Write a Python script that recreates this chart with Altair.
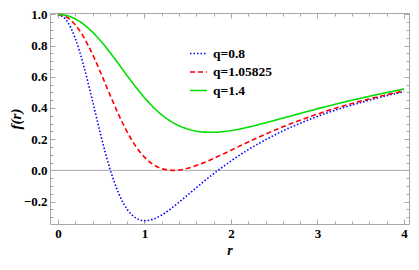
import altair as alt
import pandas as pd

# ---- data ----
r_vals = [0.0, 0.1, 0.2, 0.3, 0.4, 0.5, 0.6, 0.7, 0.8, 0.9, 1.0, 1.1, 1.2, 1.3, 1.333,
          1.4, 1.5, 1.6, 1.7, 1.8, 1.9, 2.0, 2.2, 2.4, 2.6, 2.8, 3.0, 3.2, 3.4, 3.6, 3.8, 4.0]
f_q08 = [1.0, 0.961, 0.846, 0.666, 0.444, 0.215, 0.011, -0.146, -0.25, -0.305,
         -0.323, -0.313, -0.286, -0.248, -0.234,
         -0.204, -0.158, -0.111, -0.065, -0.021, 0.020, 0.060,
         0.133, 0.196, 0.253, 0.302, 0.346, 0.385, 0.419, 0.450, 0.479, 0.504]
f_q105825 = [1.0, 0.983, 0.933, 0.852, 0.744, 0.618, 0.486, 0.359, 0.246, 0.154,
             0.085, 0.038, 0.011, 0.001, 0.000,
             0.002, 0.013, 0.031, 0.052, 0.077, 0.102, 0.129,
             0.182, 0.232, 0.279, 0.322, 0.361, 0.397, 0.429, 0.458, 0.485, 0.509]
f_q14 = [1.0, 0.993, 0.971, 0.935, 0.886, 0.826, 0.757, 0.683, 0.607, 0.534,
         0.466, 0.406, 0.356, 0.316, 0.305,
         0.286, 0.265, 0.251, 0.245, 0.244, 0.248, 0.255,
         0.277, 0.305, 0.335, 0.365, 0.395, 0.423, 0.450, 0.475, 0.499, 0.521]
series_names = ["q=0.8", "q=1.05825", "q=1.4"]
series_colors = ["#0000ff", "#ff0000", "#00dd00"]
series_dashes = [[1.5, 2], [5, 3], [1, 0]]

x_major = [0, 1, 2, 3, 4]
x_minor = [0.2, 0.4, 0.6, 0.8, 1.2, 1.4, 1.6, 1.8, 2.2, 2.4, 2.6, 2.8, 3.2, 3.4, 3.6, 3.8]
y_major = [-0.2, 0.0, 0.2, 0.4, 0.6, 0.8, 1.0]
y_minor = [-0.3, -0.25, -0.15, -0.1, -0.05, 0.05, 0.1, 0.15, 0.25, 0.3, 0.35,
           0.45, 0.5, 0.55, 0.65, 0.7, 0.75, 0.85, 0.9, 0.95]

rows = []
for name, ys in zip(series_names, [f_q08, f_q105825, f_q14]):
    for r, f in zip(r_vals, ys):
        rows.append({"r": r, "f": f, "q": name})
df = pd.DataFrame(rows)

W, H = 359, 211
FONT = "Liberation Serif"
GRAY = "#a8a8a8"

xs = alt.Scale(domain=[-0.092, 4.058], nice=False, zero=False)
ys = alt.Scale(domain=[-0.344, 1.009], nice=False, zero=False)

leg = alt.Legend(title=None, orient="none", legendX=139, legendY=31,
                 symbolType="stroke", symbolSize=289, symbolStrokeWidth=1.6,
                 labelFont=FONT, labelFontWeight="bold", labelFontSize=13.5,
                 labelColor="black", rowPadding=2.5, labelOffset=5)

base = alt.Chart(df)

lines = base.mark_line(strokeWidth=1.6, interpolate="monotone", clip=True).encode(
    x=alt.X("r:Q", scale=xs, axis=alt.Axis(
        orient="bottom", values=x_major, format="d", ticks=False, domain=False, grid=False,
        labelFont=FONT, labelFontWeight="bold", labelFontSize=13, labelColor="black",
        labelPadding=3, title="r", titleFont=FONT, titleFontStyle="italic",
        titleFontWeight="bold", titleFontSize=14, titleColor="black", titlePadding=3)),
    y=alt.Y("f:Q", scale=ys, axis=alt.Axis(
        orient="left", values=y_major, format=".1f", ticks=False, domain=False, grid=False,
        labelFont=FONT, labelFontWeight="bold", labelFontSize=13, labelColor="black",
        labelPadding=3, title="f(r)", titleFont=FONT, titleFontStyle="italic",
        titleFontWeight="bold", titleFontSize=15, titleColor="black",
        titleX=-35, titleY=H / 2, titleAngle=270, titleBaseline="middle")),
    color=alt.Color("q:N", scale=alt.Scale(domain=series_names, range=series_colors), legend=leg),
    strokeDash=alt.StrokeDash("q:N", scale=alt.Scale(domain=series_names, range=series_dashes), legend=leg),
)


def tick_layer(xvals, yvals, size, xorient, yorient):
    def ax(orient, vals):
        return alt.Axis(orient=orient, values=vals, tickSize=size, offset=-size,
                        labels=False, domain=False, grid=False, title=None,
                        tickColor=GRAY, tickWidth=1)
    return base.mark_line(opacity=0).encode(
        x=alt.X("r:Q", scale=xs, axis=ax(xorient, xvals)),
        y=alt.Y("f:Q", scale=ys, axis=ax(yorient, yvals)),
        detail="q:N",
    )


zero = alt.Chart(pd.DataFrame({"z": [0.0]})).mark_rule(color=GRAY, strokeWidth=1).encode(
    y=alt.Y("z:Q", scale=ys, axis=None)
)

chart = alt.layer(
    zero,
    lines,
    tick_layer(x_major, y_major, 5, "bottom", "left"),
    tick_layer(x_minor, y_minor, 3, "bottom", "left"),
    tick_layer(x_major, y_major, 5, "top", "right"),
    tick_layer(x_minor, y_minor, 3, "top", "right"),
).resolve_axis(x="independent", y="independent").properties(
    width=W, height=H,
    autosize=alt.AutoSizeParams(type="none"),
    padding={"left": 42, "top": 5, "right": 2, "bottom": 34},
).configure_view(stroke=GRAY, strokeWidth=1)

chart.save("out.html", embed_options={"renderer": "svg", "actions": False})
